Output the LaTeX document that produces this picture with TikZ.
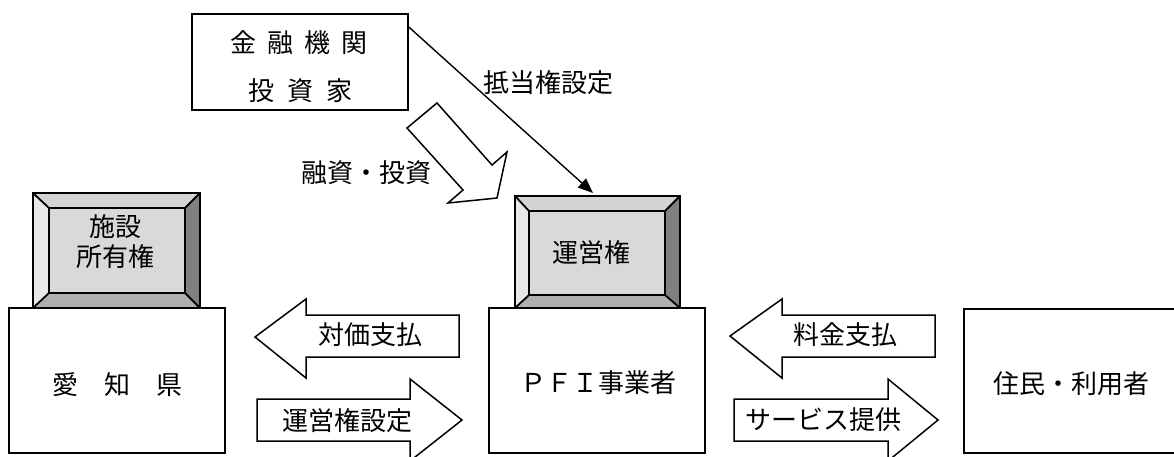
\documentclass[tikz,border=0pt]{standalone}
\usepackage{fontspec}
\setmainfont{Noto Sans CJK JP}
\usetikzlibrary{arrows.meta}
\definecolor{bvtop}{HTML}{D4D4D4}
\definecolor{bvleft}{HTML}{E8E8E8}
\definecolor{bvright}{HTML}{808080}
\definecolor{bvbottom}{HTML}{B0B0B0}
\definecolor{bvface}{HTML}{D9D9D9}
\begin{document}
\begin{tikzpicture}[x=1pt,y=-1pt,
  box/.style={draw, line width=1.8pt, fill=white, inner sep=0pt},
  lbl/.style={inner sep=0pt, font=\fontsize{26}{30}\selectfont},
  hollow/.style={draw, line width=1.5pt, fill=white, line join=miter},
  facestyle/.style={draw, line width=1.8pt, line join=miter},
  thinarrow/.style={line width=1.4pt, -{Triangle[length=15pt,width=12pt]}}]
\useasboundingbox (0,0) rectangle (1174,456);

% main boxes
\node[box, minimum width=216pt, minimum height=96pt] (bank) at (300,62) {};
\node[box, minimum width=216pt, minimum height=145pt] (aichi) at (117,380.5) {};
\node[box, minimum width=216pt, minimum height=145pt] (pfi) at (597,380.5) {};
\draw[line width=1.8pt] (1176,309) -- (964,309) -- (964,453) -- (1176,453);
\node[lbl] (res) at (1071,384) {住民・利用者};

\node[lbl] (bank1) at (299,43) {金\hspace{11pt}融\hspace{11pt}機\hspace{11pt}関};
\node[lbl] (bank2) at (300,91) {投\hspace{13pt}資\hspace{13pt}家};
\node[lbl] (aichit) at (117,385) {愛\hspace{26pt}知\hspace{26pt}県};
\node[lbl] (pfit) at (598,383) {ＰＦＩ事業者};

% bevel box 1 (施設所有権)
\fill[bvtop] (33,193) -- (200,193) -- (185,208) -- (49,208) -- cycle;
\fill[bvleft] (33,193) -- (49,208) -- (49,293) -- (33,308) -- cycle;
\fill[bvright] (200,193) -- (200,308) -- (185,293) -- (185,208) -- cycle;
\fill[bvbottom] (33,308) -- (49,293) -- (185,293) -- (200,308) -- cycle;
\draw[facestyle] (33,193) rectangle (200,308);
\draw[facestyle] (33,193) -- (49,208) (200,193) -- (185,208) (33,308) -- (49,293) (200,308) -- (185,293);
\node[facestyle, fill=bvface, minimum width=136pt, minimum height=85pt, inner sep=0pt] (own) at (117,250.5) {};
\node[lbl, align=center] (ownt) at (115,242) {施設\\所有権};

% bevel box 2 (運営権)
\fill[bvtop] (515,196) -- (680,196) -- (665,211) -- (529,211) -- cycle;
\fill[bvleft] (515,196) -- (529,211) -- (529,295) -- (515,308) -- cycle;
\fill[bvright] (680,196) -- (680,308) -- (665,295) -- (665,211) -- cycle;
\fill[bvbottom] (515,308) -- (529,295) -- (665,295) -- (680,308) -- cycle;
\draw[facestyle] (515,196) rectangle (680,308);
\draw[facestyle] (515,196) -- (529,211) (680,196) -- (665,211) (515,308) -- (529,295) (680,308) -- (665,295);
\node[facestyle, fill=bvface, minimum width=136pt, minimum height=84pt, inner sep=0pt] (right) at (597,253) {};
\node[lbl] (rightt) at (591,253) {運営権};

% mortgage arrow
\coordinate (mstart) at ([yshift=-14pt]bank.north east);
\coordinate (mend) at (593,193);
\draw[thinarrow] (mstart) -- (mend);
\node[lbl] (mort) at (548,83) {抵当権設定};

% finance hollow arrow
\draw[hollow] (437,103) -- (492,165) -- (507,152) -- (497,198) -- (448,203) -- (463,190) -- (407,128) -- cycle;
\node[lbl] (fin) at (366,173) {融資・投資};

% payment arrows
\draw[hollow] (255,337) -- (306,299) -- (306,315) -- (459,315) -- (459,357) -- (306,357) -- (306,378) -- cycle;
\node[lbl] (pay1) at (370,335) {対価支払};
\draw[hollow] (257,399) -- (410,399) -- (410,379) -- (462,420) -- (410,461) -- (410,441) -- (257,441) -- cycle;
\node[lbl] (set1) at (347,421) {運営権設定};
\draw[hollow] (730,336) -- (782,299) -- (782,315) -- (935,315) -- (935,357) -- (782,357) -- (782,378) -- cycle;
\node[lbl] (pay2) at (845,335) {料金支払};
\draw[hollow] (734,399) -- (888,399) -- (888,379) -- (938,420) -- (888,461) -- (888,441) -- (734,441) -- cycle;
\node[lbl] (serv) at (823,420) {サービス提供};
\end{tikzpicture}
\end{document}
